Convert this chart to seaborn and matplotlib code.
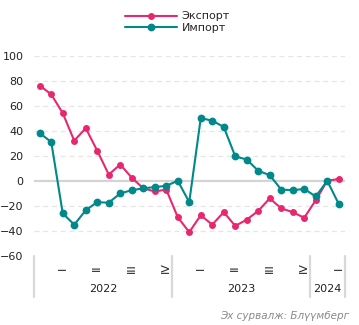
import matplotlib
matplotlib.use("Agg")
import matplotlib.pyplot as plt
import seaborn as sns
import pandas as pd
import numpy as np

# Monthly year-over-year change, %, Jan 2022 – Mar 2024
months = pd.period_range("2022-01", "2024-03", freq="M").astype(str).tolist()
export_vals = [76, 69, 54, 32, 42, 24, 5, 13, 2.5, -6, -8.5, -7,
               -29, -41, -27.5, -35, -25, -36, -31, -24, -14, -22, -25, -29.5,
               -15.5, 0, 1.5]
import_vals = [38, 31, -26, -35, -23.5, -17, -17.5, -10, -7.5, -6, -5, -4,
               0, -17, 50, 48, 43, 19.5, 17, 8, 4.5, -7, -7.5, -6.5,
               -12.5, 0, -18.5]
series_names = ["Экспорт", "Импорт"]
series_colors = ["#E8286E", "#00888A"]
quarter_labels = ["I", "II", "III", "IV"]
years = ["2022", "2023", "2024"]
source_text = "Эх сурвалж: Блүүмберг"

df = pd.DataFrame({
    "idx": np.arange(len(months)),
    "month": months,
    series_names[0]: export_vals,
    series_names[1]: import_vals,
})

sns.set_theme(style="white")
plt.rcParams["font.family"] = ["DejaVu Sans"]
FS = 8

fig = plt.figure(figsize=(3.59, 3.25), dpi=100)
ax = fig.add_axes([34 / 359, 69 / 325, 310.5 / 359, 200.5 / 325])

for name, color, ms in zip(series_names, series_colors, [5.0, 5.6]):
    sns.lineplot(data=df, x="idx", y=name, ax=ax, color=color, linewidth=1.5,
                 marker="o", markersize=ms, markeredgewidth=0, label=name,
                 legend=False)

ax.set_xlim(-0.5, len(months) - 0.5)
ax.set_ylim(-60, 100)
ax.set_yticks(np.arange(-60, 101, 20))
ax.tick_params(axis="y", labelsize=FS, length=0, pad=7.5, colors="#222222")
ax.set_xticks([])
ax.set_xlabel("")
ax.set_ylabel("")
for s in ax.spines.values():
    s.set_visible(False)

# horizontal grid: dashed lines, solid zero line
for v in range(-40, 101, 20):
    if v == 0:
        ax.axhline(0, color="#D4D4D4", linewidth=1.6, zorder=0.5)
    else:
        ax.axhline(v, color="#E6E6E6", linewidth=0.9, linestyle=(0, (4, 3)),
                   zorder=0.5)

# quarter and year labels under the axis
trans = ax.get_xaxis_transform()
month_nums = [int(m[5:]) for m in months]
year_of = [m[:4] for m in months]
for i, mn in enumerate(month_nums):
    if mn % 3 == 0:
        ax.text(i, -0.06, quarter_labels[mn // 3 - 1], transform=trans,
                rotation=90, ha="center", va="center", fontsize=FS,
                color="#222222")

bounds = []
for y in years:
    pos = [i for i, yy in enumerate(year_of) if yy == y]
    lo, hi = pos[0] - 0.5, pos[-1] + 0.5
    bounds.extend([lo, hi])
    ax.text((lo + hi) / 2, -0.165, y, transform=trans, ha="center",
            va="center", fontsize=FS, color="#222222")
for b in sorted(set(bounds)):
    ax.plot([b, b], [0, -0.205], transform=trans, color="#D8D8D8",
            linewidth=1.6, clip_on=False)

# legend
handles, labels = ax.get_legend_handles_labels()
fig.legend(handles, labels, loc="upper left", bbox_to_anchor=(121 / 359, 1 - 7 / 325),
           frameon=False, fontsize=FS, handlelength=4.6, handletextpad=0.45,
           labelspacing=0.1, borderaxespad=0)

fig.text(349 / 359, 1 - 316 / 325, source_text, ha="right", va="center",
         fontsize=7.5, style="italic", color="#8A8A8A")

fig.savefig("out.png", dpi=100)
